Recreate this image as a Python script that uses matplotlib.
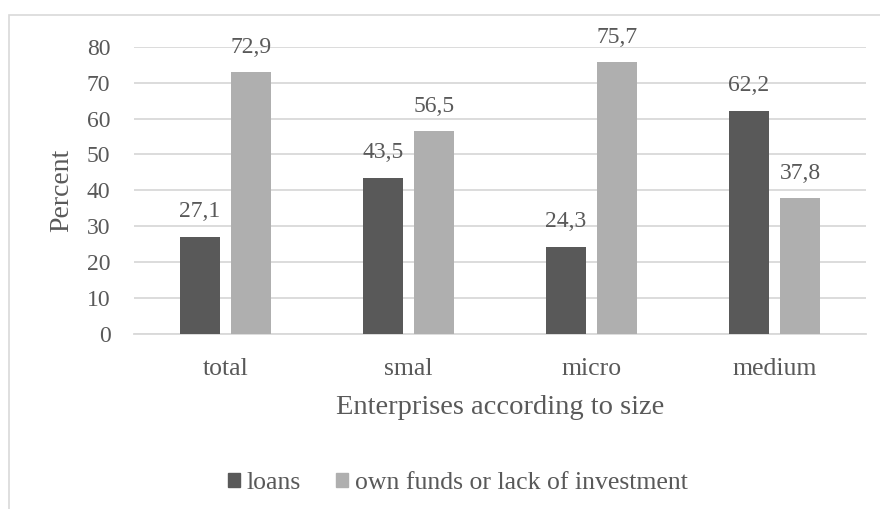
import numpy as np
import matplotlib.pyplot as plt
from matplotlib.patches import Rectangle, Patch

# Data
categories = ['total', 'smal', 'micro', 'medium']
loans = [27.1, 43.5, 24.3, 62.2]
own_funds = [72.9, 56.5, 75.7, 37.8]
series_names = ['loans', 'own funds or lack of investment']
y_ticks = [0, 10, 20, 30, 40, 50, 60, 70, 80]

DARK = '#595959'
LIGHT = '#afafaf'
GRID = '#d9d9d9'
TEXT = '#595959'

plt.rcParams['font.family'] = ['Liberation Serif', 'DejaVu Serif']

fig = plt.figure(figsize=(8.8, 5.09), dpi=100)
ax = fig.add_axes([0.1523, 0.3438, 0.8318, 0.5645])

# outer chart border (only top and left edges visible)
fig.patches.append(Rectangle((9 / 880, -0.1), 1.2, 1.1 - 15 / 509,
                             transform=fig.transFigure, fill=False,
                             edgecolor=GRID, linewidth=1.2))

x = np.arange(len(categories))
w = 0.221
off = 0.1407
b1 = ax.bar(x - off, loans, w, color=DARK, zorder=3)
b2 = ax.bar(x + off, own_funds, w, color=LIGHT, zorder=3)

# value labels with decimal comma
for bars, vals in ((b1, loans), (b2, own_funds)):
    for bar, v in zip(bars, vals):
        ax.annotate(f'{v:.1f}'.replace('.', ','),
                    (bar.get_x() + bar.get_width() / 2, v),
                    xytext=(0, 14), textcoords='offset points',
                    ha='center', va='baseline', fontsize=17, color=TEXT)

ax.set_xlim(-0.5, 3.5)
ax.set_ylim(0, 80)
ax.set_yticks(y_ticks)
ax.set_xticks(x)
ax.set_xticklabels(categories)
ax.tick_params(axis='y', length=0, pad=17, labelsize=17, labelcolor=TEXT)
ax.tick_params(axis='x', length=0, pad=17, labelsize=18.5, labelcolor=TEXT)

ax.grid(axis='y', color=GRID, linewidth=1.3, zorder=0)
for s in ('top', 'right', 'left'):
    ax.spines[s].set_visible(False)
ax.spines['bottom'].set_color(GRID)
ax.spines['bottom'].set_linewidth(1.3)

ax.set_xlabel('Enterprises according to size', fontsize=20.5, color=TEXT)
ax.xaxis.set_label_coords(0.5, -0.257)
ax.xaxis.label.set_va('center')
ax.set_ylabel('Percent', fontsize=20, color=TEXT)
ax.yaxis.set_label_coords(-0.0988, 0.5)
ax.yaxis.label.set_va('center')

handles = [Patch(color=DARK), Patch(color=LIGHT)]
fig.legend(handles, series_names, loc='center', ncol=2,
           bbox_to_anchor=(458 / 880, 1 - 483 / 509), frameon=False,
           fontsize=18.5, labelcolor=TEXT, handlelength=0.47,
           handleheight=0.47, handletextpad=0.27, columnspacing=1.36)

fig.savefig('out.png', dpi=100)
